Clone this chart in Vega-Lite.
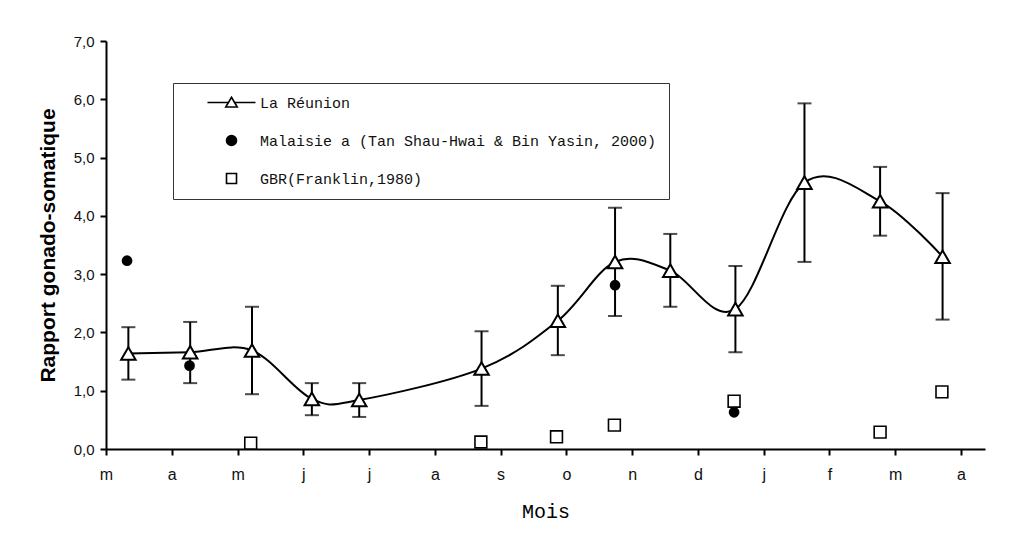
{
  "$schema": "https://vega.github.io/schema/vega-lite/v6.json",
  "width": 879,
  "height": 408,
  "autosize": "none",
  "padding": {"left": 106, "top": 41, "right": 43, "bottom": 91},
  "background": "white",
  "config": {
    "view": {"stroke": null},
    "axis": {"grid": false, "domainColor": "black", "domainWidth": 2, "tickColor": "black", "tickWidth": 2, "tickSize": 6, "labelColor": "#111", "titleColor": "black"},
    "legend": {"labelFont": "Liberation Mono", "labelFontSize": 15, "labelColor": "#111", "labelLimit": 600}
  },
  "datasets": {
    "reunion": [
      {"mois": 0.34, "rgs": 1.64, "bas": 1.19, "haut": 2.09},
      {"mois": 1.28, "rgs": 1.66, "bas": 1.13, "haut": 2.18},
      {"mois": 2.22, "rgs": 1.69, "bas": 0.94, "haut": 2.44},
      {"mois": 3.13, "rgs": 0.86, "bas": 0.58, "haut": 1.13},
      {"mois": 3.85, "rgs": 0.84, "bas": 0.55, "haut": 1.13},
      {"mois": 5.71, "rgs": 1.38, "bas": 0.74, "haut": 2.02},
      {"mois": 6.87, "rgs": 2.2, "bas": 1.61, "haut": 2.8},
      {"mois": 7.74, "rgs": 3.21, "bas": 2.28, "haut": 4.14},
      {"mois": 8.58, "rgs": 3.06, "bas": 2.44, "haut": 3.69},
      {"mois": 9.57, "rgs": 2.4, "bas": 1.66, "haut": 3.14},
      {"mois": 10.62, "rgs": 4.57, "bas": 3.21, "haut": 5.93},
      {"mois": 11.77, "rgs": 4.25, "bas": 3.66, "haut": 4.84},
      {"mois": 12.72, "rgs": 3.3, "bas": 2.22, "haut": 4.39}
    ],
    "malaisie": [
      {"mois": 0.32, "rgs": 3.23},
      {"mois": 1.27, "rgs": 1.43},
      {"mois": 7.74, "rgs": 2.81},
      {"mois": 9.55, "rgs": 0.63}
    ],
    "gbr": [
      {"mois": 2.2, "rgs": 0.1},
      {"mois": 5.7, "rgs": 0.12},
      {"mois": 6.85, "rgs": 0.21},
      {"mois": 7.73, "rgs": 0.41},
      {"mois": 9.55, "rgs": 0.82},
      {"mois": 11.77, "rgs": 0.29},
      {"mois": 12.71, "rgs": 0.98}
    ],
    "legende": [
      {"serie": "La Réunion"},
      {"serie": "Malaisie a (Tan Shau-Hwai & Bin Yasin, 2000)"},
      {"serie": "GBR(Franklin,1980)"}
    ]
  },
  "encoding": {
    "x": {
      "field": "mois", "type": "quantitative",
      "scale": {"domain": [0, 13.365], "nice": false, "zero": false},
      "axis": {
        "title": "Mois", "titleFont": "Liberation Mono", "titleFontSize": 20, "titleFontWeight": "normal", "titlePadding": 19,
        "values": [0,1,2,3,4,5,6,7,8,9,10,11,12,13],
        "labelExpr": "['m','a','m','j','j','a','s','o','n','d','j','f','m','a'][datum.value]",
        "labelFont": "Liberation Sans", "labelFontSize": 16, "labelPadding": 11, "labelFlush": false
      }
    },
    "y": {
      "field": "rgs", "type": "quantitative",
      "scale": {"domain": [0, 7], "nice": false},
      "axis": {
        "title": "Rapport gonado-somatique", "titleFont": "Liberation Sans", "titleFontSize": 21, "titleFontWeight": "bold", "titlePadding": 15,
        "values": [0,1,2,3,4,5,6,7],
        "labelExpr": "replace(format(datum.value, '.1f'), '.', ',')",
        "labelFont": "Liberation Sans", "labelFontSize": 15, "labelPadding": 6, "labelFlush": false
      }
    }
  },
  "layer": [
    {
      "data": {"name": "reunion"},
      "mark": {"type": "rule", "color": "black", "strokeWidth": 2},
      "encoding": {"y": {"field": "bas", "type": "quantitative"}, "y2": {"field": "haut"}}
    },
    {
      "data": {"name": "reunion"},
      "mark": {"type": "tick", "orient": "horizontal", "color": "black", "size": 14, "thickness": 2},
      "encoding": {"y": {"field": "bas", "type": "quantitative"}}
    },
    {
      "data": {"name": "reunion"},
      "mark": {"type": "tick", "orient": "horizontal", "color": "black", "size": 14, "thickness": 2},
      "encoding": {"y": {"field": "haut", "type": "quantitative"}}
    },
    {
      "data": {"name": "reunion"},
      "mark": {"type": "line", "interpolate": "cardinal", "color": "black", "strokeWidth": 2},
      "encoding": {}
    },
    {
      "data": {"name": "reunion"},
      "mark": {"type": "point", "shape": "triangle-up", "filled": true, "fill": "white", "stroke": "black", "strokeWidth": 2, "size": 210, "opacity": 1},
      "encoding": {}
    },
    {
      "data": {"name": "malaisie"},
      "mark": {"type": "point", "shape": "circle", "filled": true, "fill": "black", "size": 115, "opacity": 1},
      "encoding": {}
    },
    {
      "data": {"name": "gbr"},
      "mark": {"type": "point", "shape": "square", "filled": true, "fill": "white", "stroke": "black", "strokeWidth": 1.6, "size": 140, "opacity": 1},
      "encoding": {}
    },
    {
      "data": {"name": "legende"},
      "transform": [{"filter": "false"}],
      "mark": {"type": "point", "filled": true, "strokeWidth": 1.6, "opacity": 1},
      "encoding": {
        "x": {"value": 0},
        "y": {"value": 0},
        "shape": {
          "field": "serie", "type": "nominal",
          "scale": {
            "domain": ["La Réunion", "Malaisie a (Tan Shau-Hwai & Bin Yasin, 2000)", "GBR(Franklin,1980)"],
            "range": ["M-4.8,0L-0.6,0M0.6,0L4.8,0M0,-1.05L1.15,0.9L-1.15,0.9Z", "circle", "square"]
          },
          "legend": {
            "title": null, "orient": "none", "legendX": 67, "legendY": 42,
            "strokeColor": "#333", "fillColor": "white", "padding": 12,
            "symbolOffset": 39, "labelOffset": 21, "rowPadding": 21, "symbolSize": 100,
            "symbolStrokeWidth": 1.6, "labelLimit": 600
          }
        },
        "fill": {
          "field": "serie", "type": "nominal",
          "scale": {
            "domain": ["La Réunion", "Malaisie a (Tan Shau-Hwai & Bin Yasin, 2000)", "GBR(Franklin,1980)"],
            "range": ["white", "black", "white"]
          },
          "legend": {
            "title": null, "orient": "none", "legendX": 67, "legendY": 42,
            "strokeColor": "#333", "fillColor": "white", "padding": 12,
            "symbolOffset": 39, "labelOffset": 21, "rowPadding": 21, "symbolSize": 100,
            "symbolStrokeWidth": 1.6, "labelLimit": 600
          }
        },
        "stroke": {
          "field": "serie", "type": "nominal",
          "scale": {
            "domain": ["La Réunion", "Malaisie a (Tan Shau-Hwai & Bin Yasin, 2000)", "GBR(Franklin,1980)"],
            "range": ["black", "black", "black"]
          },
          "legend": {
            "title": null, "orient": "none", "legendX": 67, "legendY": 42,
            "strokeColor": "#333", "fillColor": "white", "padding": 12,
            "symbolOffset": 39, "labelOffset": 21, "rowPadding": 21, "symbolSize": 100,
            "symbolStrokeWidth": 1.6, "labelLimit": 600
          }
        }
      }
    }
  ]
}
